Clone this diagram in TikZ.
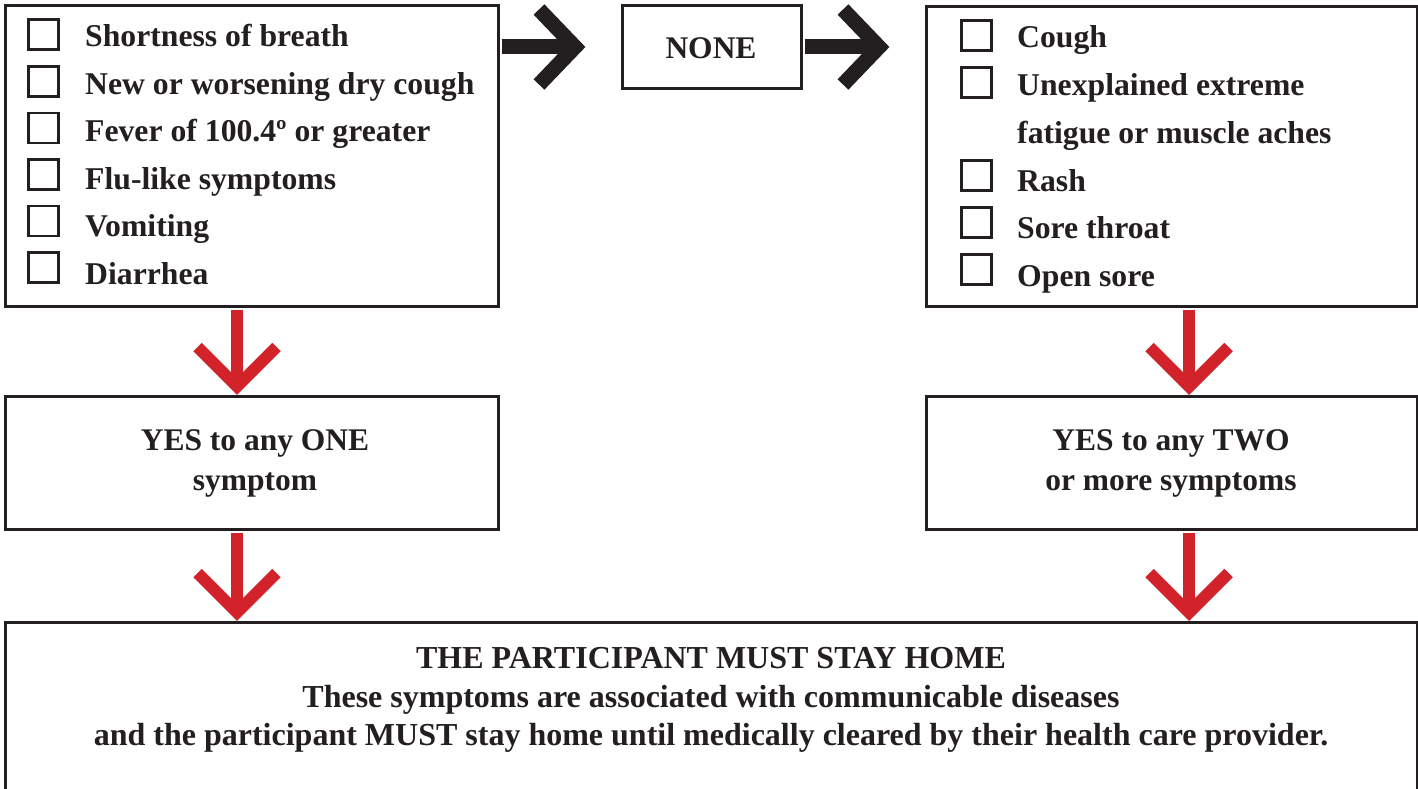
\documentclass[tikz,border=0pt]{standalone}
\usepackage{fontspec}
\setmainfont{Liberation Serif}
\usetikzlibrary{calc}
\definecolor{ink}{HTML}{231F20}
\definecolor{alarm}{HTML}{D2232A}
\begin{document}
\begin{tikzpicture}[x=1pt,y=-1pt,
  box/.style={draw=ink, line width=3pt, fill=white, inner sep=0pt, anchor=north west},
  cbox/.style={draw=ink, line width=2.6pt, minimum size=30pt, inner sep=0pt, anchor=south west},
  item/.style={text=ink, font=\fontsize{31.7}{31.7}\selectfont\bfseries, inner sep=0pt, anchor=base west},
  ctext/.style={text=ink, font=\fontsize{31.5}{31.5}\selectfont\bfseries, inner sep=0pt, anchor=base},
  btext/.style={ctext, font=\fontsize{32}{32}\selectfont\bfseries},
  blackshaft/.style={draw=ink, line width=15pt},
  blackchev/.style={draw=ink, line width=15pt, line join=miter},
  redshaft/.style={draw=alarm, line width=12.5pt},
  redchev/.style={draw=alarm, line width=12pt, line join=miter}]
\useasboundingbox (0,0) rectangle (1418,789);
% boxes
\node[box, minimum width=493pt, minimum height=301pt] (A) at (4,4) {};
\node[box, minimum width=179pt, minimum height=83pt] (none) at (621,4) {};
\node[box, minimum width=491pt, minimum height=300pt] (B) at (925,5) {};
\node[box, minimum width=493pt, minimum height=133pt] (C) at (4,395) {};
\node[box, minimum width=491pt, minimum height=133pt] (D) at (925,395) {};
\node[box, minimum width=1412pt, minimum height=200pt] (E) at (4,621) {};
\node[ctext] (noneT) at (711,59) {NONE};
% left list
\foreach \i/\t in {0/Shortness of breath,1/New or worsening dry cough,2/Fever of 100.4º or greater,3/Flu-like symptoms,4/Vomiting,5/Diarrhea}{
  \node[cbox] (lb\i) at (27,{51+46.6*\i}) {};
  \node[item] (lt\i) at (85,{46.5+47.6*\i}) {\t};
}
% right list
\foreach \i/\yb/\y/\t in {0/52/47.5/Cough,1/99/95.5/Unexplained extreme,3/192/191/Rash,4/239/238.5/Sore throat,5/286/286/Open sore}{
  \node[cbox] (rb\i) at (960,\yb) {};
  \node[item] (rt\i) at (1017,\y) {\t};
}
\node[item] (rt2) at (1017,143) {fatigue or muscle aches};
% middle boxes text
\node[ctext] (c1) at (255,450) {YES to any ONE};
\node[ctext] (c2) at (255,490) {symptom};
\node[ctext] (d1) at (1171,450) {YES to any TWO};
\node[ctext] (d2) at (1171,490) {or more symptoms};
% bottom text
\node[btext] (e1) at (711,668) {THE PARTICIPANT MUST STAY HOME};
\node[btext] (e2) at (711,707) {These symptoms are associated with communicable diseases};
\node[btext] (e3) at (711,745) {and the participant MUST stay home until medically cleared by their health care provider.};
% black arrows
\draw[blackshaft] ([xshift=1.5pt]A.east |- none.west) -- ([xshift=-44pt]none.west);
\draw[blackchev] ([xshift=-82pt,yshift=37.5pt]none.west) -- ([xshift=-46pt]none.west) -- ([xshift=-82pt,yshift=-37.5pt]none.west);
\draw[blackshaft] ([xshift=1.5pt]none.east) -- ([xshift=-44pt]B.west |- none.east);
\draw[blackchev] ([xshift=-82pt,yshift=37.5pt]B.west |- none.east) -- ([xshift=-46pt]B.west |- none.east) -- ([xshift=-82pt,yshift=-37.5pt]B.west |- none.east);
% red arrows
\foreach \s/\t/\dx in {A/C/-15, B/D/17, C/E/-15, D/E/17}{
  \coordinate (tip\s) at ([xshift=\dx pt]\s.south |- \t.north);
  \draw[redshaft] ([xshift=\dx pt,yshift=-1.5pt]\s.south) -- ([yshift=12pt]tip\s);
  \draw[redchev] ([xshift=-39.5pt,yshift=48pt]tip\s) -- ([yshift=8.5pt]tip\s) -- ([xshift=39.5pt,yshift=48pt]tip\s);
}
\end{tikzpicture}
\end{document}
